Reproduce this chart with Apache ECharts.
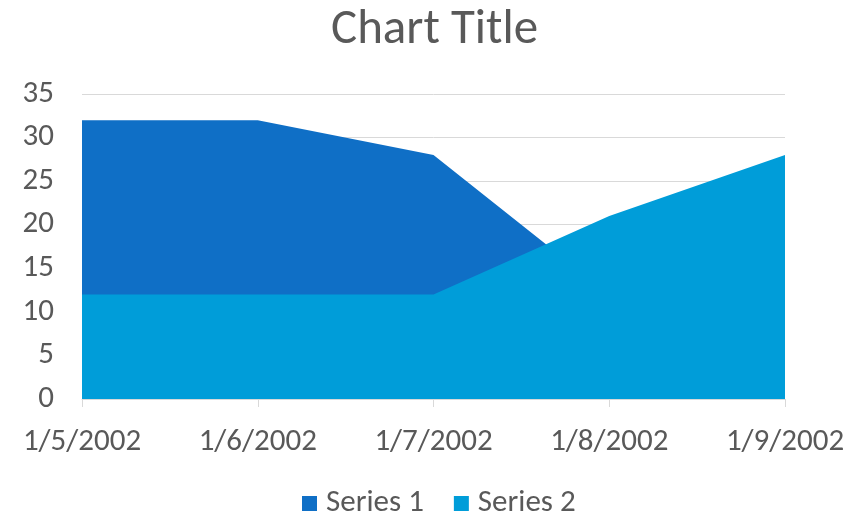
<!DOCTYPE html>
<html>
<head>
<meta charset="utf-8">
<script src="https://cdn.jsdelivr.net/npm/echarts@6/dist/echarts.min.js"></script>
<style>
  html, body { margin: 0; padding: 0; background: #fff; }
  #main { width: 849px; height: 516px; }
</style>
</head>
<body>
<div id="main"></div>
<script>
var dates = ['1/5/2002', '1/6/2002', '1/7/2002', '1/8/2002', '1/9/2002'];
var series1 = [32, 32, 28, 12, 15];
var series2 = [12, 12, 12, 21, 28];

var textColor = '#595959';
var font = 'Calibri, Carlito, "Open Sans", "Noto Sans", sans-serif';

var myChart = echarts.init(document.getElementById('main'));
myChart.setOption({
    animation: false,
    title: {
        text: 'Chart Title',
        left: 326,
        top: 1,
        textStyle: { color: textColor, fontSize: 49, fontWeight: 'normal', fontFamily: font }
    },
    legend: {
        top: 483,
        left: 297,
        itemWidth: 15,
        itemHeight: 15,
        itemGap: 30,
        icon: 'rect',
        textStyle: { color: textColor, fontSize: 31, fontFamily: font, padding: [0, 0, 0, 4] },
        data: ['Series 1', 'Series 2']
    },
    grid: { left: 82, right: 64, top: 94, bottom: 117 },
    xAxis: {
        type: 'category',
        boundaryGap: false,
        data: dates,
        axisLine: { lineStyle: { color: '#d9d9d9', width: 1 } },
        axisTick: { show: true, length: 8, lineStyle: { color: '#d9d9d9' } },
        axisLabel: { color: textColor, fontSize: 31, fontFamily: font, margin: 28 },
        splitLine: { show: false }
    },
    yAxis: {
        type: 'value',
        min: 0,
        max: 35,
        interval: 5,
        axisLine: { show: false },
        axisTick: { show: false },
        axisLabel: { color: textColor, fontSize: 31, fontFamily: font, margin: 28 },
        splitLine: { lineStyle: { color: '#d9d9d9', width: 1 } }
    },
    series: [
        {
            name: 'Series 1',
            type: 'line',
            data: series1,
            symbol: 'none',
            lineStyle: { width: 0 },
            itemStyle: { color: '#0F6FC6' },
            areaStyle: { color: '#0F6FC6', opacity: 1 }
        },
        {
            name: 'Series 2',
            type: 'line',
            data: series2,
            symbol: 'none',
            lineStyle: { width: 0 },
            itemStyle: { color: '#009DD9' },
            areaStyle: { color: '#009DD9', opacity: 1 }
        }
    ]
});
</script>
</body>
</html>
